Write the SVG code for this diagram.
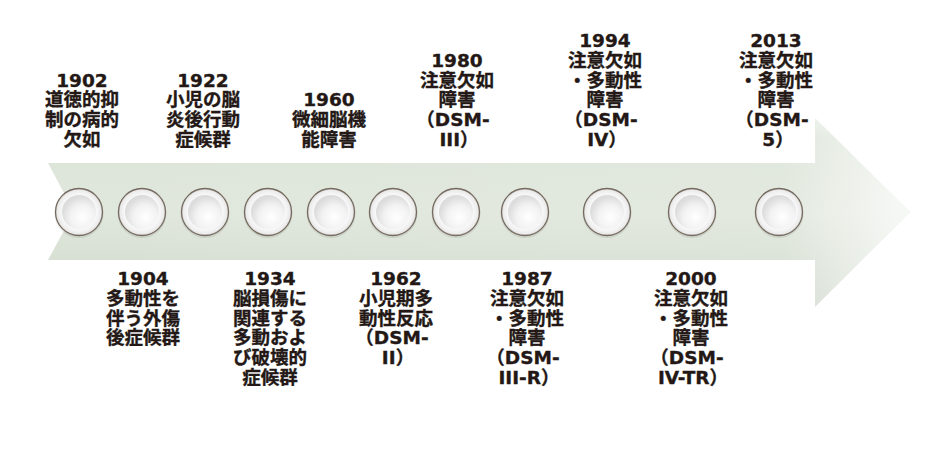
<svg xmlns="http://www.w3.org/2000/svg" width="925" height="454" viewBox="0 0 925 454">
<style>
.lbl{font-family:"DejaVu Sans","Noto Sans CJK JP",sans-serif;font-weight:bold;font-size:18.5px;fill:#231815;stroke:#231815;stroke-width:0.35px;text-anchor:middle}
</style>
<defs>
<linearGradient id="shaftV" x1="0" y1="0" x2="0" y2="1">
<stop offset="0" stop-color="#e8eee5"/>
<stop offset="0.1" stop-color="#dce4d8"/>
<stop offset="0.5" stop-color="#e0e7dc"/>
<stop offset="1" stop-color="#d0d9cc"/>
</linearGradient>
<linearGradient id="fadeH" x1="48" y1="0" x2="912" y2="0" gradientUnits="userSpaceOnUse">
<stop offset="0" stop-color="#ffffff" stop-opacity="0"/>
<stop offset="0.85" stop-color="#ffffff" stop-opacity="0.1"/>
<stop offset="1" stop-color="#ffffff" stop-opacity="0.75"/>
</linearGradient>
<radialGradient id="btnOuter" cx="0.5" cy="0.5" r="0.5">
<stop offset="0.7" stop-color="#fafafa"/>
<stop offset="0.92" stop-color="#ececec"/>
<stop offset="1" stop-color="#d6d3cf"/>
</radialGradient>
<radialGradient id="btnInner" cx="0.6" cy="0.65" r="0.6">
<stop offset="0" stop-color="#ffffff"/>
<stop offset="0.6" stop-color="#f2f2f2"/>
<stop offset="1" stop-color="#dcdcdc"/>
</radialGradient>
<g id="btn">
<circle r="24.5" fill="#000" opacity="0.08" cy="1.5"/>
<circle r="23.5" fill="url(#btnOuter)" stroke="#766b61" stroke-width="1.3"/>
<circle r="17" fill="url(#btnInner)"/>
</g>
</defs>
<rect width="925" height="454" fill="#ffffff"/>
<g id="connectors">
<path id="timeline-arrow" d="M48,163 L815,163 L815,118 L910,212 L815,307 L815,260 L48,260 L74,212 Z" fill="url(#shaftV)"/>
<path d="M48,163 L815,163 L815,118 L910,212 L815,307 L815,260 L48,260 L74,212 Z" fill="url(#fadeH)"/>
</g>
<g id="node-1902">
<use href="#btn" x="79" y="212"/>
<text class="lbl" y="86.6"><tspan x="82">1902</tspan><tspan x="82" dy="19.8">道徳的抑</tspan><tspan x="82" dy="19.8">制の病的</tspan><tspan x="82" dy="19.8">欠如</tspan></text>
</g>
<g id="node-1904">
<use href="#btn" x="142" y="212"/>
<text class="lbl" y="285"><tspan x="143">1904</tspan><tspan x="143" dy="19.8">多動性を</tspan><tspan x="143" dy="19.8">伴う外傷</tspan><tspan x="143" dy="19.8">後症候群</tspan></text>
</g>
<g id="node-1922">
<use href="#btn" x="205" y="212"/>
<text class="lbl" y="86.6"><tspan x="203">1922</tspan><tspan x="203" dy="19.8">小児の脳</tspan><tspan x="203" dy="19.8">炎後行動</tspan><tspan x="203" dy="19.8">症候群</tspan></text>
</g>
<g id="node-1934">
<use href="#btn" x="268" y="212"/>
<text class="lbl" y="285"><tspan x="270">1934</tspan><tspan x="270" dy="19.8">脳損傷に</tspan><tspan x="270" dy="19.8">関連する</tspan><tspan x="270" dy="19.8">多動およ</tspan><tspan x="270" dy="19.8">び破壊的</tspan><tspan x="270" dy="19.8">症候群</tspan></text>
</g>
<g id="node-1960">
<use href="#btn" x="331" y="212"/>
<text class="lbl" y="106.4"><tspan x="329">1960</tspan><tspan x="329" dy="19.8">微細脳機</tspan><tspan x="329" dy="19.8">能障害</tspan></text>
</g>
<g id="node-1962">
<use href="#btn" x="393" y="212"/>
<text class="lbl" y="285"><tspan x="396">1962</tspan><tspan x="396" dy="19.8">小児期多</tspan><tspan x="396" dy="19.8">動性反応</tspan><tspan x="392" dy="19.8">（DSM-</tspan><tspan x="398" dy="19.8">II）</tspan></text>
</g>
<g id="node-1980">
<use href="#btn" x="456" y="212"/>
<text class="lbl" y="66.8"><tspan x="457">1980</tspan><tspan x="457" dy="19.8">注意欠如</tspan><tspan x="457" dy="19.8">障害</tspan><tspan x="453" dy="19.8">（DSM-</tspan><tspan x="459" dy="19.8">III）</tspan></text>
</g>
<g id="node-1987">
<use href="#btn" x="525" y="212"/>
<text class="lbl" y="285"><tspan x="527">1987</tspan><tspan x="527" dy="19.8">注意欠如</tspan><tspan x="527" dy="19.8">・多動性</tspan><tspan x="527" dy="19.8">障害</tspan><tspan x="523" dy="19.8">（DSM-</tspan><tspan x="529" dy="19.8">III-R）</tspan></text>
</g>
<g id="node-1994">
<use href="#btn" x="607" y="212"/>
<text class="lbl" y="47"><tspan x="605">1994</tspan><tspan x="605" dy="19.8">注意欠如</tspan><tspan x="605" dy="19.8">・多動性</tspan><tspan x="605" dy="19.8">障害</tspan><tspan x="601" dy="19.8">（DSM-</tspan><tspan x="607" dy="19.8">IV）</tspan></text>
</g>
<g id="node-2000">
<use href="#btn" x="692" y="212"/>
<text class="lbl" y="285"><tspan x="691">2000</tspan><tspan x="691" dy="19.8">注意欠如</tspan><tspan x="691" dy="19.8">・多動性</tspan><tspan x="691" dy="19.8">障害</tspan><tspan x="687" dy="19.8">（DSM-</tspan><tspan x="693" dy="19.8">IV-TR）</tspan></text>
</g>
<g id="node-2013">
<use href="#btn" x="779" y="212"/>
<text class="lbl" y="47"><tspan x="776">2013</tspan><tspan x="776" dy="19.8">注意欠如</tspan><tspan x="776" dy="19.8">・多動性</tspan><tspan x="776" dy="19.8">障害</tspan><tspan x="772" dy="19.8">（DSM-</tspan><tspan x="778" dy="19.8">5）</tspan></text>
</g>
</svg>
